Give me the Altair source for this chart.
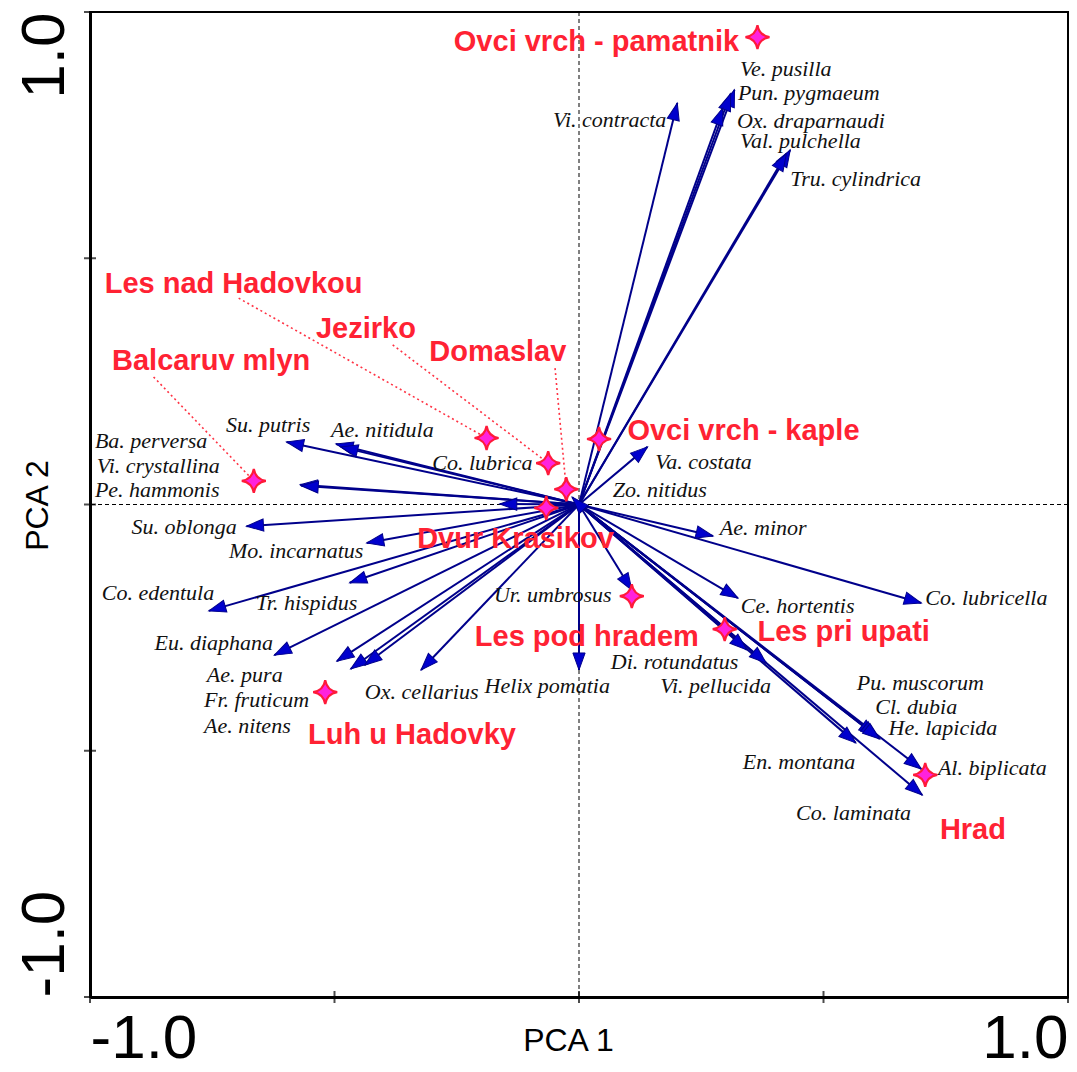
import math
import altair as alt
import pandas as pd

# ---------------- data ----------------
species = ["Vi. contracta", "Ve. pusilla", "Pun. pygmaeum", "Ox. draparnaudi", "Val. pulchella",
           "Tru. cylindrica", "Va. costata", "Zo. nitidus", "Ae. minor", "Co. lubricella",
           "Ce. hortentis", "Ur. umbrosus", "Helix pomatia", "Di. rotundatus", "Vi. pellucida",
           "En. montana", "Pu. muscorum", "Cl. dubia", "He. lapicida", "Al. biplicata",
           "Co. laminata", "Su. putris", "Ae. nitidula", "Ba. perversa", "Vi. crystallina",
           "Pe. hammonis", "Co. lubrica", "Su. oblonga", "Mo. incarnatus", "Co. edentula",
           "Tr. hispidus", "Eu. diaphana", "Ae. pura", "Fr. fruticum", "Ae. nitens",
           "Ox. cellarius"]
sp_pc1 = [0.201, 0.318, 0.310, 0.294, 0.432, 0.424, 0.140, -0.014, 0.274, 0.700,
          0.325, 0.108, 0.000, 0.343, 0.383, 0.566, 0.607, 0.611, 0.615, 0.700,
          0.702, -0.598, -0.497, -0.487, -0.570, -0.568, -0.162, -0.680, -0.434, -0.757,
          -0.469, -0.623, -0.495, -0.467, -0.438, -0.323]
sp_pc2 = [0.815, 0.842, 0.834, 0.805, 0.720, 0.712, 0.117, 0.015, -0.064, -0.200,
          -0.190, -0.174, -0.336, -0.295, -0.322, -0.484, -0.469, -0.472, -0.476, -0.537,
          -0.590, 0.127, 0.123, 0.117, 0.040, 0.038, 0.001, -0.044, -0.078, -0.216,
          -0.159, -0.306, -0.318, -0.334, -0.326, -0.336]
sp_label_x = [-0.053, 0.329, 0.325, 0.323, 0.329, 0.432, 0.156, 0.069, 0.288, 0.708,
              0.331, -0.174, -0.193, 0.065, 0.166, 0.335, 0.568, 0.606, 0.633, 0.734,
              0.444, -0.722, -0.507, -0.990, -0.986, -0.990, -0.300, -0.915, -0.716, -0.976,
              -0.661, -0.868, -0.761, -0.767, -0.767, -0.438]
sp_label_y = [0.781, 0.884, 0.835, 0.779, 0.738, 0.661, 0.086, 0.029, -0.048, -0.190,
              -0.206, -0.184, -0.368, -0.320, -0.369, -0.523, -0.362, -0.411, -0.454, -0.535,
              -0.626, 0.162, 0.151, 0.129, 0.078, 0.029, 0.084, -0.045, -0.094, -0.180,
              -0.200, -0.281, -0.346, -0.397, -0.450, -0.381]

sites = ["Ovci vrch - pamatnik", "Les nad Hadovkou", "Jezirko", "Domaslav", "Balcaruv mlyn",
         "Ovci vrch - kaple", "Dvur Krasikov", "Les pod hradem", "Les pri upati",
         "Luh u Hadovky", "Hrad"]
site_pc1 = [0.365, -0.189, -0.063, -0.026, -0.665, 0.041, -0.067, 0.108, 0.298, -0.519, 0.708]
site_pc2 = [0.949, 0.135, 0.084, 0.031, 0.048, 0.133, -0.007, -0.186, -0.253, -0.381, -0.549]
site_label_x = [-0.256, -0.970, -0.538, -0.306, -0.955, 0.099, -0.331, -0.213, 0.365, -0.554, 0.738]
site_label_y = [0.939, 0.447, 0.357, 0.310, 0.291, 0.149, -0.070, -0.269, -0.259, -0.468, -0.661]

leader_sites = ["Les nad Hadovkou", "Jezirko", "Domaslav", "Balcaruv mlyn"]
leader_x = [-0.696, -0.381, -0.049, -0.870]
leader_y = [0.419, 0.324, 0.277, 0.259]

tick_values = [-1.0, -0.5, 0.0, 0.5, 1.0]
label_values = [-1.0, 1.0]

# ---------------- layout ----------------
W, H = 978, 985

sp = pd.DataFrame({"name": species, "x": sp_pc1, "y": sp_pc2,
                   "lx": sp_label_x, "ly": sp_label_y})
sp["x0"] = 0.0
sp["y0"] = 0.0
sp["angle"] = [(math.degrees(math.atan2(a * W / 2, b * H / 2)) + 360) % 360
               for a, b in zip(sp["x"], sp["y"])]

st = pd.DataFrame({"name": sites, "x": site_pc1, "y": site_pc2,
                   "lx": site_label_x, "ly": site_label_y})
ld = pd.DataFrame({"name": leader_sites, "sx": leader_x, "sy": leader_y})
ld = ld.merge(st[["name", "x", "y"]], on="name")

xs = alt.Scale(domain=[-1, 1], nice=False, zero=False)
ys = alt.Scale(domain=[-1, 1], nice=False, zero=False)

cond_align = {"condition": {"test": "datum.value > 0", "value": "right"}, "value": "left"}
lab_expr = "datum.value > 0 ? '1.0' : '-1.0'"

ax_x = alt.Axis(values=label_values, title="PCA 1", labelExpr=lab_expr,
                labelFont="Liberation Sans", labelFontSize=62, labelColor="black",
                labelAlign=cond_align, labelBaseline="alphabetic", labelPadding=60,
                labelFlush=False, labelOverlap=False, ticks=False, tickSize=0, grid=False,
                domainColor="black", domainWidth=3,
                titleFont="Liberation Sans", titleFontSize=32, titleFontWeight="normal",
                titleColor="black", titleX=478, titleY=53, titleBaseline="alphabetic",
                titleAlign="center")
ax_y = alt.Axis(values=label_values, title="PCA 2", labelExpr=lab_expr,
                labelFont="Liberation Sans", labelFontSize=62, labelColor="black",
                labelAngle=270, labelAlign=cond_align, labelBaseline="alphabetic",
                labelPadding=27, labelFlush=False, labelOverlap=False, ticks=False,
                tickSize=0, grid=False, domainColor="black", domainWidth=3,
                titleFont="Liberation Sans", titleFontSize=32, titleFontWeight="normal",
                titleColor="black", titleAngle=270, titleX=-43, titleY=493,
                titleBaseline="alphabetic", titleAlign="center")


def X(f):
    return alt.X(f, type="quantitative", scale=xs, axis=ax_x)


def Y(f):
    return alt.Y(f, type="quantitative", scale=ys, axis=ax_y)


zero_df = pd.DataFrame({"v": [0.0]})
vline = alt.Chart(zero_df).mark_rule(color="black", strokeDash=[4, 3], strokeWidth=1).encode(x=X("v"))
hline = alt.Chart(zero_df).mark_rule(color="black", strokeDash=[4, 3], strokeWidth=1).encode(y=Y("v"))

leaders = alt.Chart(ld).mark_rule(color="#ff3344", strokeDash=[2, 3], strokeWidth=1.6).encode(
    x=X("sx"), y=Y("sy"), x2="x", y2="y")

arrows = alt.Chart(sp).mark_rule(color="#00008b", strokeWidth=2).encode(
    x=X("x0"), y=Y("y0"), x2="x", y2="y")

head_path = "M0,0 L0.36,1 L-0.36,1 Z"
heads = alt.Chart(sp).mark_point(shape=head_path, filled=True, size=1156, fill="#0000cd",
                                 stroke="#00008b", strokeWidth=1, opacity=1).encode(
    x=X("x"), y=Y("y"), angle=alt.Angle("angle:Q", scale=None))

sp_text = alt.Chart(sp).mark_text(font="Liberation Serif", fontStyle="italic", fontSize=22,
                                  color="#111111", align="left", baseline="middle").encode(
    x=X("lx"), y=Y("ly"), text="name")

star_path = ("M0,-1 Q0.14,-0.14 1,0 Q0.14,0.14 0,1 Q-0.14,0.14 -1,0 "
             "Q-0.14,-0.14 0,-1 Z")
stars = alt.Chart(st).mark_point(shape=star_path, filled=True, size=576, fill="#ff22dd",
                                 stroke="#ff1a3a", strokeWidth=2.2, opacity=1).encode(
    x=X("x"), y=Y("y"))

site_text = alt.Chart(st).mark_text(font="Liberation Sans", fontWeight="bold", fontSize=29,
                                    color="#ff2233", align="left", baseline="middle").encode(
    x=X("lx"), y=Y("ly"), text="name")

tick_df = pd.DataFrame({"v": tick_values})
xticks = alt.Chart(tick_df).mark_tick(color="black", thickness=2, size=12).encode(
    x=X("v"), y=alt.value(H))
yticks = alt.Chart(tick_df).mark_tick(color="black", thickness=2, size=12).encode(
    y=Y("v"), x=alt.value(0))

chart = alt.layer(vline, hline, leaders, arrows, heads, sp_text, stars, site_text,
                  xticks, yticks).properties(
    width=W, height=H,
    autosize=alt.AutoSizeParams(type="none"),
    padding={"left": 82, "top": 4, "right": 1, "bottom": 62},
    background="white",
).configure_view(stroke="black", strokeWidth=2)

chart.save("out.html", embed_options={"renderer": "svg", "actions": False})
